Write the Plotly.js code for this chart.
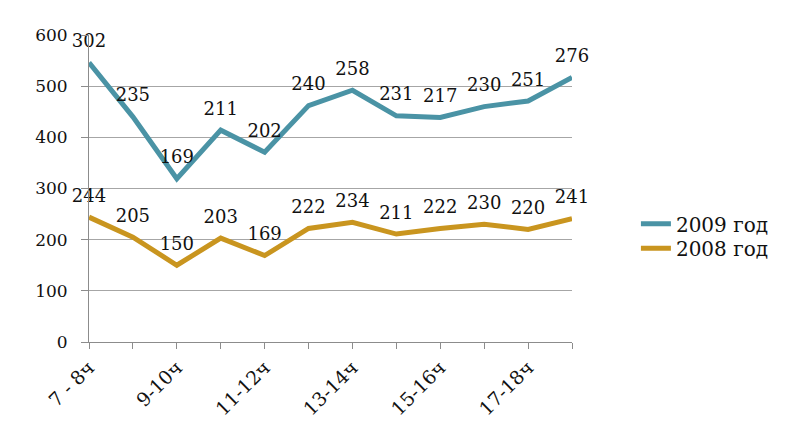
<!DOCTYPE html>
<html>
<head>
<meta charset="utf-8">
<script src="https://cdn.plot.ly/plotly-3.0.1.min.js"></script>
<style>html,body{margin:0;padding:0;background:#fff;}#chart{width:785px;height:432px;}</style>
</head>
<body>
<div id="chart"></div>
<script>
const categories = ["7 - 8ч","8-9ч","9-10ч","10-11ч","11-12ч","12-13ч","13-14ч","14-15ч","15-16ч","16-17ч","17-18ч","18-19ч"];
const tickLabels = ["7 - 8ч","","9-10ч","","11-12ч","","13-14ч","","15-16ч","","17-18ч",""];
const values2008 = [244,205,150,203,169,222,234,211,222,230,220,241];
const values2009 = [302,235,169,211,202,240,258,231,217,230,251,276];
const yTicks = [0,100,200,300,400,500,600];

const font = "DejaVu Serif, serif";

const traces = [
  {
    name: "2008 год", x: categories, y: values2008, type: "scatter", mode: "lines+markers+text",
    stackgroup: "one", fill: "none", legend: "legend2",
    line: {color: "#C9951F", width: 5},
    marker: {size: 16, color: "rgba(0,0,0,0)", line: {width: 0}},
    text: values2008.map(String), textposition: "top center",
    textfont: {family: font, size: 18, color: "#111"},
    hoverinfo: "skip", cliponaxis: false
  },
  {
    name: "2009 год", x: categories, y: values2009, type: "scatter", mode: "lines+markers+text",
    stackgroup: "one", fill: "none", legend: "legend",
    line: {color: "#4A93A5", width: 5},
    marker: {size: 16, color: "rgba(0,0,0,0)", line: {width: 0}},
    text: values2009.map(String), textposition: "top center",
    textfont: {family: font, size: 18, color: "#111"},
    hoverinfo: "skip", cliponaxis: false
  }
];

const legendFont = {family: font, size: 20, color: "#111"};
const layout = {
  width: 785, height: 432,
  margin: {l: 89, r: 212, t: 35, b: 90},
  paper_bgcolor: "#fff", plot_bgcolor: "#fff",
  showlegend: true,
  legend: {
    x: 1.13, xanchor: "left", y: 0.385, yanchor: "middle",
    font: legendFont, bgcolor: "rgba(0,0,0,0)"
  },
  legend2: {
    x: 1.13, xanchor: "left", y: 0.305, yanchor: "middle",
    font: legendFont, bgcolor: "rgba(0,0,0,0)"
  },
  xaxis: {
    type: "category",
    range: [0, 11],
    tickmode: "array", tickvals: categories, ticktext: tickLabels,
    tickangle: -45,
    ticks: "outside", ticklen: 6, tickcolor: "#8c8c8c", tickwidth: 1,
    showline: true, linecolor: "#8c8c8c", linewidth: 1,
    showgrid: false, zeroline: false,
    tickfont: {family: font, size: 19, color: "#111"},
    fixedrange: true
  },
  yaxis: {
    range: [0, 600],
    tickmode: "array", tickvals: yTicks,
    ticks: "outside", ticklen: 7, tickcolor: "#8c8c8c",
    ticklabelstandoff: 10,
    showline: true, linecolor: "#8c8c8c", linewidth: 1,
    showgrid: true, gridcolor: "#a6a6a6", gridwidth: 1,
    zeroline: false,
    tickfont: {family: font, size: 17, color: "#111"},
    fixedrange: true
  },
  hovermode: false
};

Plotly.newPlot("chart", traces, layout, {staticPlot: true, displayModeBar: false});
</script>
</body>
</html>
